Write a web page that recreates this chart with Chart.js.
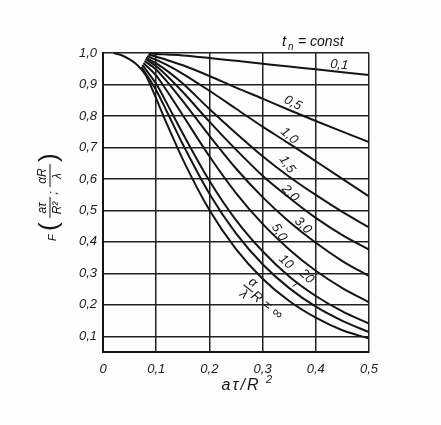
<!DOCTYPE html>
<html>
<head>
<meta charset="utf-8">
<script src="https://cdn.jsdelivr.net/npm/chart.js@4.4.1/dist/chart.umd.min.js"></script>
<style>
html,body{margin:0;padding:0;background:#fefefe;}
#wrap{width:441px;height:425px;}
</style>
</head>
<body>
<div id="wrap"><canvas id="c" width="441" height="425"></canvas></div>
<script>
// ---- data ----
const biotLabels = ['0,1', '0,5', '1,0', '1,5', '2,0', '3,0', '5,0', '10', '20'];
const foGrid = [0.1, 0.12, 0.15, 0.2, 0.25, 0.3, 0.35, 0.4, 0.45, 0.5];
const startFo = [0.087, 0.085, 0.083, 0.081, 0.080, 0.078, 0.076, 0.074, 0.072];
const startF  = [0.999, 0.995, 0.990, 0.985, 0.981, 0.975, 0.968, 0.962, 0.956];
const fBi0_1 = [0.997, 0.995, 0.992, 0.984, 0.975, 0.966, 0.957, 0.948, 0.939, 0.930];
const fBi0_5 = [0.988, 0.978, 0.961, 0.927, 0.890, 0.855, 0.819, 0.784, 0.750, 0.717];
const fBi1_0 = [0.978, 0.962, 0.934, 0.880, 0.823, 0.766, 0.712, 0.656, 0.600, 0.544];
const fBi1_5 = [0.967, 0.944, 0.903, 0.822, 0.745, 0.672, 0.607, 0.549, 0.495, 0.446];
const fBi2_0 = [0.958, 0.928, 0.876, 0.782, 0.693, 0.610, 0.540, 0.476, 0.421, 0.375];
const fBi3_0 = [0.947, 0.910, 0.847, 0.737, 0.633, 0.542, 0.464, 0.397, 0.339, 0.291];
const fBi5_0 = [0.928, 0.880, 0.802, 0.672, 0.555, 0.457, 0.376, 0.308, 0.253, 0.208];
const fBi10  = [0.902, 0.840, 0.744, 0.594, 0.469, 0.370, 0.290, 0.228, 0.179, 0.140];
const fBi20  = [0.882, 0.814, 0.710, 0.553, 0.427, 0.329, 0.253, 0.194, 0.149, 0.113];
const infFo = [0.02, 0.035, 0.05, 0.06, 0.07, 0.08, 0.09, 0.1, 0.12, 0.15, 0.2, 0.25, 0.3, 0.35, 0.4, 0.45, 0.5];
const infF  = [1.0, 0.993, 0.980, 0.968, 0.952, 0.930, 0.895, 0.855, 0.775, 0.662, 0.501, 0.377, 0.283, 0.212, 0.159, 0.119, 0.093];
const xTicks = [0, 0.1, 0.2, 0.3, 0.4, 0.5];
const xTickLabels = ['0', '0,1', '0,2', '0,3', '0,4', '0,5'];
const yTicks = [0.1, 0.2, 0.3, 0.4, 0.5, 0.6, 0.7, 0.8, 0.9, 1.0];
const yTickLabels = ['0,1', '0,2', '0,3', '0,4', '0,5', '0,6', '0,7', '0,8', '0,9', '1,0'];

const finiteSeries = [fBi0_1, fBi0_5, fBi1_0, fBi1_5, fBi2_0, fBi3_0, fBi5_0, fBi10, fBi20];

// ---- build chart ----
const INK = '#141414';
const FONT = "'Liberation Sans', Arial, sans-serif";

const datasets = finiteSeries.map((vals, i) => ({
  label: biotLabels[i],
  data: [{x: startFo[i], y: startF[i]}].concat(foGrid.map((fo, k) => ({x: fo, y: vals[k]}))),
}));
datasets.push({
  label: '∞',
  data: infFo.map((fo, k) => ({x: fo, y: infF[k]})),
});
datasets.forEach(d => Object.assign(d, {
  showLine: true, borderColor: INK, borderWidth: 2, pointRadius: 0,
  cubicInterpolationMode: 'monotone', fill: false
}));

// label anchor placements (data coordinates) and rotations
const labelSpots = [
  {fo: 0.444, f: 0.962, a: 5},
  {fo: 0.357, f: 0.841, a: 28},
  {fo: 0.350, f: 0.737, a: 42},
  {fo: 0.346, f: 0.646, a: 55},
  {fo: 0.352, f: 0.554, a: 45},
  {fo: 0.376, f: 0.452, a: 45},
  {fo: 0.331, f: 0.430, a: 58},
  {fo: 0.344, f: 0.336, a: 42},
  {fo: 0.383, f: 0.290, a: 42}
];

const textPlugin = {
  id: 'texts',
  afterDraw(chart) {
    const {ctx, chartArea: ca, scales: {x, y}} = chart;
    ctx.save();
    ctx.fillStyle = INK;
    ctx.strokeStyle = INK;
    ctx.textAlign = 'center';
    ctx.textBaseline = 'middle';

    // curve labels
    labelSpots.forEach((s, i) => {
      ctx.save();
      ctx.translate(x.getPixelForValue(s.fo), y.getPixelForValue(s.f));
      ctx.rotate(s.a * Math.PI / 180);
      ctx.font = 'italic 13px ' + FONT;
      ctx.fillText(biotLabels[i], 0, 0);
      ctx.restore();
    });
    // small leader under "20"
    ctx.lineWidth = 1;
    ctx.beginPath();
    ctx.moveTo(x.getPixelForValue(0.356), y.getPixelForValue(0.258));
    ctx.lineTo(x.getPixelForValue(0.367), y.getPixelForValue(0.270));
    ctx.stroke();

    // alpha R / lambda = infinity label
    ctx.save();
    ctx.translate(x.getPixelForValue(0.273), y.getPixelForValue(0.252));
    ctx.rotate(38 * Math.PI / 180);
    ctx.font = 'italic 13px ' + FONT;
    ctx.textBaseline = 'bottom';
    ctx.fillText('α', 0, -1);
    ctx.textBaseline = 'top';
    ctx.fillText('λ', 0, 1);
    ctx.lineWidth = 1.2;
    ctx.beginPath(); ctx.moveTo(-6, 0); ctx.lineTo(6, 0); ctx.stroke();
    ctx.textAlign = 'left';
    ctx.textBaseline = 'middle';
    ctx.font = 'italic 14px ' + FONT;
    ctx.fillText('R = ∞', 7, 2);
    ctx.restore();

    // t_n = const
    ctx.textAlign = 'left';
    ctx.textBaseline = 'middle';
    ctx.font = 'italic 15px ' + FONT;
    ctx.fillText('t', 282, 42);
    ctx.font = 'italic 10px ' + FONT;
    ctx.fillText('n', 288, 47);
    ctx.font = 'italic 14px ' + FONT;
    ctx.fillText('= const', 298, 42);

    // x-axis title
    ctx.font = 'italic 16px ' + FONT;
    try { ctx.letterSpacing = '2px'; } catch (e) {}
    ctx.textAlign = 'center';
    ctx.fillText('aτ/R', 241, 386);
    try { ctx.letterSpacing = '0px'; } catch (e) {}
    ctx.font = 'italic 11px ' + FONT;
    ctx.fillText('2', 269, 380);

    // y-axis title, rotated
    ctx.save();
    ctx.translate(ca.left - 53, 241);
    ctx.rotate(-Math.PI / 2);
    ctx.textAlign = 'left';
    ctx.textBaseline = 'middle';
    ctx.font = 'italic 11px ' + FONT;
    ctx.fillText('F', 0, 3);
    ctx.font = '26px ' + FONT;
    ctx.fillText('(', 10, 0);
    ctx.textAlign = 'center';
    ctx.font = 'italic 12px ' + FONT;
    ctx.textBaseline = 'bottom';
    ctx.fillText('aτ', 33, -1);
    ctx.textBaseline = 'top';
    ctx.fillText('R²', 33, 1.5);
    ctx.lineWidth = 1;
    ctx.beginPath(); ctx.moveTo(23, 0); ctx.lineTo(44, 0); ctx.stroke();
    ctx.textBaseline = 'middle';
    ctx.font = 'italic 13px ' + FONT;
    ctx.fillText(';', 48, 3);
    ctx.font = 'italic 12px ' + FONT;
    ctx.textBaseline = 'bottom';
    ctx.fillText('αR', 65, -1);
    ctx.textBaseline = 'top';
    ctx.fillText('λ', 65, 1.5);
    ctx.beginPath(); ctx.moveTo(54, 0); ctx.lineTo(77, 0); ctx.stroke();
    ctx.textAlign = 'left';
    ctx.textBaseline = 'middle';
    ctx.font = '26px ' + FONT;
    ctx.fillText(')', 79, 0);
    ctx.restore();

    ctx.restore();
  }
};

new Chart(document.getElementById('c'), {
  type: 'scatter',
  data: {datasets},
  options: {
    responsive: false,
    animation: false,
    devicePixelRatio: 1,
    layout: {padding: {top: 53, right: 72, left: 0, bottom: 0}},
    plugins: {legend: {display: false}, tooltip: {enabled: false}},
    scales: {
      x: {
        type: 'linear', min: 0, max: 0.5,
        afterBuildTicks: s => { s.ticks = xTicks.map(v => ({value: v})); },
        afterFit: s => { s.height = 73; },
        grid: {color: '#222222', lineWidth: 1.5, drawTicks: false},
        border: {display: true, color: INK, width: 2},
        ticks: {
          padding: 10, maxRotation: 0, color: '#1c1c1c',
          font: {family: FONT, size: 13, style: 'italic'},
          callback: (v, i) => xTickLabels[i]
        }
      },
      y: {
        type: 'linear', min: 0.05, max: 1.0,
        afterBuildTicks: s => { s.ticks = yTicks.map(v => ({value: v})); },
        afterFit: s => { s.width = 103; },
        grid: {color: '#222222', lineWidth: 1.5, drawTicks: false},
        border: {display: true, color: INK, width: 2},
        ticks: {
          padding: 6, color: '#1c1c1c',
          font: {family: FONT, size: 13, style: 'italic'},
          callback: (v, i) => yTickLabels[i]
        }
      }
    }
  },
  plugins: [textPlugin]
});
</script>
</body>
</html>
